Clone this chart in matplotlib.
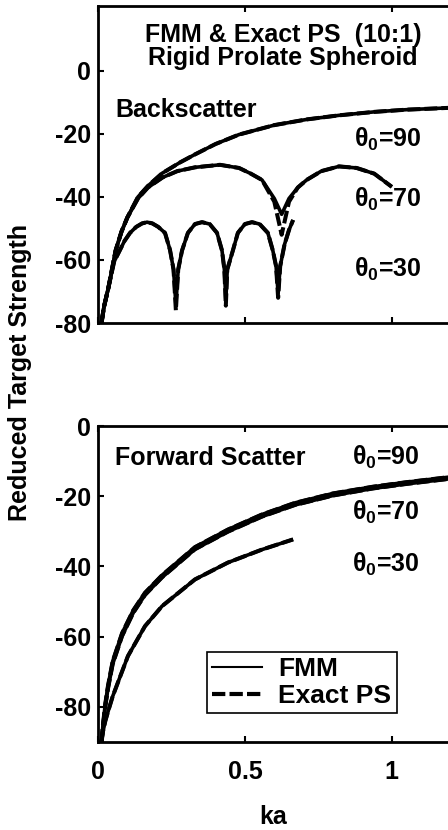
import numpy as np
import matplotlib
matplotlib.use("Agg")
import matplotlib.pyplot as plt

plt.rcParams['font.family'] = ['Liberation Sans', 'DejaVu Sans']
plt.rcParams['font.weight'] = 'bold'
plt.rcParams['axes.unicode_minus'] = False
plt.rcParams['mathtext.fontset'] = 'custom'
plt.rcParams['mathtext.rm'] = 'Liberation Sans:bold'
plt.rcParams['mathtext.it'] = 'Liberation Sans:bold'
plt.rcParams['mathtext.bf'] = 'Liberation Sans:bold'
plt.rcParams['mathtext.default'] = 'rm'

# Backscatter, theta0 = 90 (FMM and exact overlap)
bs90_ka = [0.012, 0.02, 0.035, 0.06, 0.08, 0.1, 0.136, 0.17, 0.218, 0.28, 0.33,
           0.4, 0.48, 0.6, 0.71, 0.82, 0.94, 1.05, 1.2, 1.3]
bs90_ts = [-80, -75, -69, -57, -51, -46.5, -40, -36.5, -32.5, -29, -26.5,
           -23.2, -20.2, -17.2, -15.4, -14.1, -13.0, -12.3, -11.7, -11.4]

# Backscatter, theta0 = 70
bs70_ka = [0.012, 0.02, 0.035, 0.06, 0.08, 0.1, 0.136, 0.17, 0.22, 0.27, 0.33,
           0.415, 0.48, 0.52, 0.558, 0.6, 0.625, 0.65, 0.68, 0.71, 0.76, 0.82,
           0.88, 0.94, 1.0]
bs70_fmm = [-80, -75, -69, -57, -51, -46.5, -40.5, -37, -33.8, -31.8, -30.6,
            -29.8, -30.8, -32.6, -34.6, -40.5, -45.5, -40.5, -37, -34.6, -31.8,
            -30.3, -30.8, -32.6, -36.8]
bs70_exact = [-80, -75, -69, -57, -51, -46.5, -40.5, -37, -33.8, -31.8, -30.6,
              -29.8, -30.8, -32.6, -34.6, -41.5, -52, -41.5, -37, -34.6, -31.8,
              -30.3, -30.8, -32.6, -36.8]

# Backscatter, theta0 = 30
bs30_ka = [0.012, 0.02, 0.035, 0.055, 0.075, 0.09, 0.109, 0.13, 0.15, 0.167,
           0.185, 0.205, 0.228, 0.245, 0.257, 0.265, 0.273, 0.286, 0.306, 0.33,
           0.354, 0.38, 0.405, 0.422, 0.43, 0.435, 0.44, 0.459, 0.476, 0.5,
           0.524, 0.55, 0.578, 0.595, 0.606, 0.613, 0.62, 0.635, 0.65, 0.664]
bs30_fmm = [-80, -75, -69, -60.5, -56.8, -54, -51.4, -49.5, -48.4, -48,
            -48.4, -49.5, -51.4, -56.8, -63, -74, -63, -57, -51.4, -48.6,
            -48, -48.6, -51.4, -57, -63, -72.7, -63, -57, -51.4, -48.6,
            -48, -48.6, -51.4, -57, -62, -70.5, -62, -55, -50.5, -47.3]
bs30_exact = [-80, -75, -69, -60.5, -56.8, -54, -51.4, -49.5, -48.4, -48,
              -48.4, -49.5, -51.4, -56.8, -63, -76, -63, -57, -51.4, -48.6,
              -48, -48.6, -51.4, -57, -63, -74.5, -63, -57, -51.4, -48.6,
              -48, -48.6, -51.4, -57, -62, -72, -62, -55, -50.5, -47.3]

# Forward scatter, theta0 = 90 and 70
fs_ka = [0.012, 0.017, 0.025, 0.034, 0.05, 0.082, 0.12, 0.16, 0.218, 0.33,
         0.442, 0.558, 0.67, 0.8, 0.935, 1.05, 1.19, 1.3]
fs90_ts = [-90, -85, -79, -74, -67, -59, -52.5, -47.5, -42.5, -34.5,
           -29.5, -25.2, -21.9, -19.2, -17.3, -16.0, -14.6, -13.7]
fs70_ts = [-90, -85.8, -79.8, -74.8, -67.8, -59.8, -53.2, -48.1, -43.1, -35.1,
           -30.1, -25.8, -22.5, -19.8, -17.8, -16.5, -15.1, -14.2]

# Forward scatter, theta0 = 30
fs30_ka = [0.012, 0.017, 0.025, 0.034, 0.05, 0.068, 0.102, 0.16, 0.218, 0.33,
           0.442, 0.558, 0.664]
fs30_ts = [-90, -87, -84, -81.4, -77, -73, -65.5, -57, -51.3, -43.7,
           -38.9, -35.2, -32.3]

xticks = [0, 0.5, 1]
xticklabels = ['0', '0.5', '1']
yticks = [-80, -60, -40, -20, 0]

fmm_kw = dict(color='k', lw=2.6, solid_capstyle='butt')
ex_kw = dict(color='k', lw=2.9, linestyle=(0, (3.2, 1.0)))

fig = plt.figure(figsize=(4.48, 8.30), dpi=100)
ax1 = fig.add_axes([98/448, 1-323/830, 382/448, 317/830])
ax2 = fig.add_axes([98/448, 1-742/830, 382/448, 316/830])

ax1.plot(bs90_ka, bs90_ts, **fmm_kw)
ax1.plot(bs90_ka, bs90_ts, **ex_kw)
ax1.plot(bs70_ka, bs70_fmm, **fmm_kw)
ax1.plot(bs70_ka, bs70_exact, **ex_kw)
ax1.plot(bs30_ka, bs30_fmm, **fmm_kw)
ax1.plot(bs30_ka, bs30_exact, **ex_kw)

ax2.plot(fs_ka, fs90_ts, **fmm_kw)
ax2.plot(fs_ka, fs90_ts, **ex_kw)
ax2.plot(fs_ka, fs70_ts, **fmm_kw)
ax2.plot(fs_ka, fs70_ts, **ex_kw)
ax2.plot(fs30_ka, fs30_ts, **fmm_kw)
ax2.plot(fs30_ka, fs30_ts, **ex_kw)

for ax in (ax1, ax2):
    ax.set_xlim(0, 1.3)
    ax.set_xticks(xticks)
    ax.set_yticks(yticks)
    ax.tick_params(direction='in', top=True, right=True, length=4, width=1.5,
                   labelsize=18, pad=5)
    for s in ax.spines.values():
        s.set_linewidth(2)
ax1.set_ylim(-80, 20.6)
ax1.set_xticklabels([])
ax2.set_ylim(-90, 0)
ax2.set_xticklabels(xticklabels)
ax2.tick_params(axis='x', pad=13)

tfs = 18
ax1.text(0.63, 9.2, 'FMM & Exact PS  (10:1)', ha='center', fontsize=tfs)
ax1.text(0.63, 1.9, 'Rigid Prolate Spheroid', ha='center', fontsize=tfs)
ax1.text(0.058, -14.6, 'Backscatter', fontsize=tfs)
ax1.text(0.872, -24.1, r'$\theta_0$=90', fontsize=tfs)
ax1.text(0.872, -43.2, r'$\theta_0$=70', fontsize=tfs)
ax1.text(0.872, -65.4, r'$\theta_0$=30', fontsize=tfs)

ax2.text(0.058, -11.1, 'Forward Scatter', fontsize=tfs)
ax2.text(0.866, -11.1, r'$\theta_0$=90', fontsize=tfs)
ax2.text(0.866, -26.7, r'$\theta_0$=70', fontsize=tfs)
ax2.text(0.866, -41.4, r'$\theta_0$=30', fontsize=tfs)

h1, = ax2.plot([], [], color='k', lw=1.5, label='FMM')
h2, = ax2.plot([], [], color='k', lw=3, linestyle=(0, (3.2, 1.0)), label='Exact PS')
leg = ax2.legend(handles=[h1, h2], loc='upper left',
                 bbox_to_anchor=(207/448, 1-652/830),
                 bbox_transform=fig.transFigure, fontsize=19,
                 fancybox=False, framealpha=1, edgecolor='k',
                 handlelength=1.9, handletextpad=0.6, borderpad=0.2,
                 labelspacing=0.1, borderaxespad=0)
leg.get_frame().set_linewidth(1.2)

fig.text(20/448, 1-372/830, 'Reduced Target Strength', rotation=90,
         ha='center', va='center', fontsize=tfs)
fig.text(273/448, 1-817/830, 'ka', ha='center', va='center', fontsize=tfs)

fig.savefig('out.png', dpi=100)
